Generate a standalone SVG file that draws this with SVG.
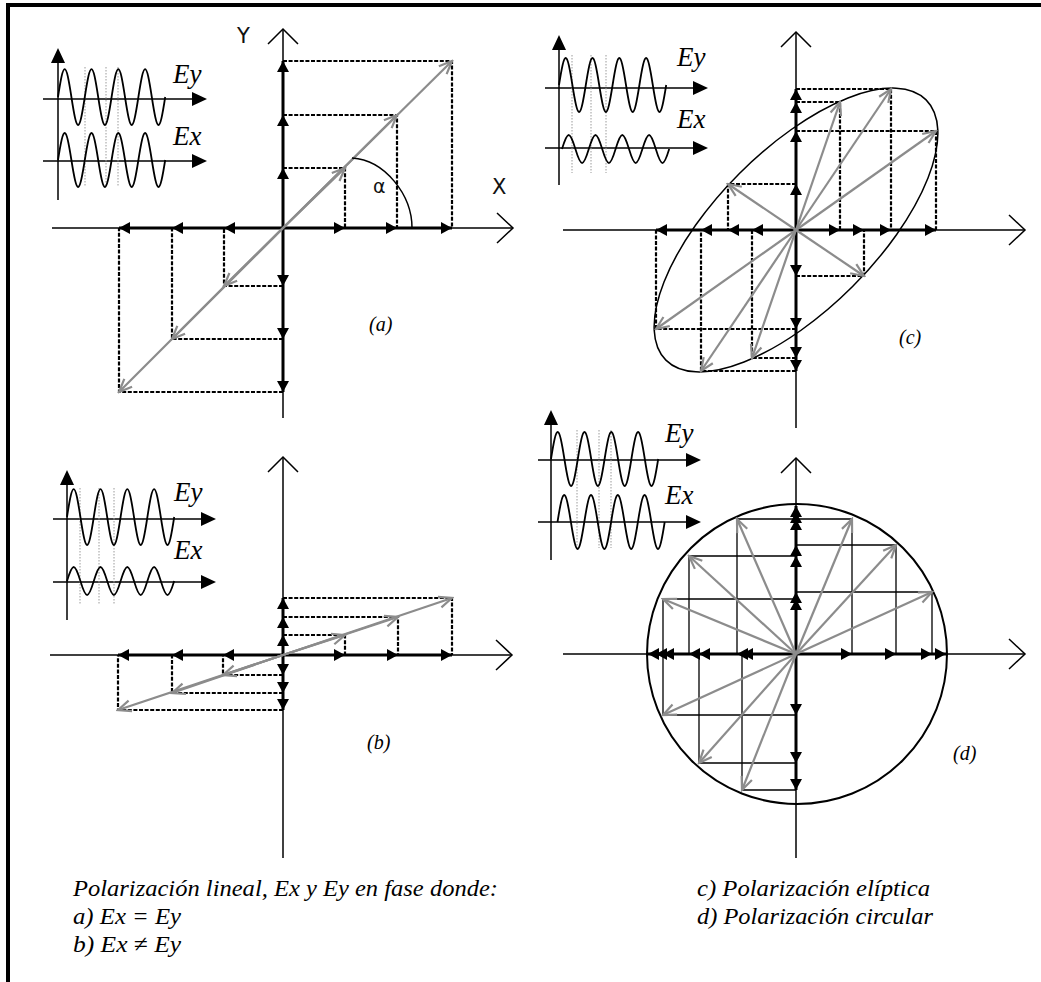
<svg xmlns="http://www.w3.org/2000/svg" width="1041" height="982" viewBox="0 0 1041 982">
<style>
.ax{stroke:#000;stroke-width:1.5;fill:none}
.thk{stroke:#000;stroke-width:3}
.ds{stroke:#000;stroke-width:2.2;stroke-dasharray:4 1.6;fill:none}
.gr{stroke:#8c8c8c;stroke-width:2.2;marker-end:url(#ga)}
.wv{stroke:#000;stroke-width:1.8;fill:none}
.dt{stroke:#9a9a9a;stroke-width:1;stroke-dasharray:1.5 1.5}
.grid{stroke:#000;stroke-width:1.3}
.lb{font-family:"Liberation Serif",serif;font-style:italic;fill:#000}
.sn{font-family:"DejaVu Sans","Liberation Sans",sans-serif;fill:#111}
</style>
<defs>
<marker id="ga" markerUnits="userSpaceOnUse" viewBox="-16 -8 18 16" refX="0" refY="0" markerWidth="18" markerHeight="16" orient="auto">
<path d="M-13,-5.5 L0,0 L-13,5.5" fill="none" stroke="#8c8c8c" stroke-width="2.2"/>
</marker>
<path id="tR" d="M0,0 L-11,-6 L-11,6 Z"/>
<path id="iR" d="M0,0 L-15,-7 L-15,7 Z"/>
</defs>
<rect width="1041" height="982" fill="#fff"/>
<g id="frame">
<line x1="6" y1="5" x2="1041" y2="5" stroke="#000" stroke-width="4"/>
<line x1="8" y1="3" x2="8" y2="982" stroke="#000" stroke-width="4"/>
</g>

<g id="panel-a">
<g id="inset-a">
<line class="ax" x1="58" y1="200" x2="58" y2="60"/>
<use href="#iR" transform="translate(58,48) rotate(-90)"/>
<line class="ax" x1="43" y1="99" x2="195" y2="99"/>
<use href="#iR" transform="translate(207,99)"/>
<line class="ax" x1="43" y1="161" x2="195" y2="161"/>
<use href="#iR" transform="translate(207,161)"/>
<line class="dt" x1="85" y1="67" x2="85" y2="187"/>
<line class="dt" x1="106" y1="67" x2="106" y2="187"/>
<line class="dt" x1="118" y1="67" x2="118" y2="187"/>
<path class="wv" d="M58,97 c5.69,-37.3 7.71,-37.3 13.4,0 s7.71,37.3 13.4,0 s7.71,-37.3 13.4,0 s7.71,37.3 13.4,0 s7.71,-37.3 13.4,0 s7.71,37.3 13.4,0 s7.71,-37.3 13.4,0 s7.71,37.3 13.4,0"/>
<path class="wv" d="M58,160 c5.69,-36 7.71,-36 13.4,0 s7.71,36 13.4,0 s7.71,-36 13.4,0 s7.71,36 13.4,0 s7.71,-36 13.4,0 s7.71,36 13.4,0 s7.71,-36 13.4,0 s7.71,36 13.4,0"/>
<text class="lb" x="173" y="83" font-size="27">Ey</text>
<text class="lb" x="173" y="145" font-size="27">Ex</text>
</g>
<line class="ax" x1="52" y1="228" x2="513" y2="228"/>
<path class="ax" d="M497,213 L513,228 L497,243"/>
<line class="ax" x1="283" y1="418" x2="283" y2="29"/>
<path class="ax" d="M268,44 L283,29 L298,44"/>
<path class="ds" d="M283,61 H452 V228 M283,115 H397 V228 M283,168 H345 V228 M283,286 H224 V228 M283,339 H172 V228 M283,392 H119 V228"/>
<line class="thk" x1="119" y1="228" x2="452" y2="228"/>
<line class="thk" x1="283" y1="61" x2="283" y2="392"/>
<use href="#tR" transform="translate(345,228)"/>
<use href="#tR" transform="translate(397,228)"/>
<use href="#tR" transform="translate(452,228)"/>
<use href="#tR" transform="translate(224,228) rotate(180)"/>
<use href="#tR" transform="translate(172,228) rotate(180)"/>
<use href="#tR" transform="translate(119,228) rotate(180)"/>
<use href="#tR" transform="translate(283,168) rotate(-90)"/>
<use href="#tR" transform="translate(283,115) rotate(-90)"/>
<use href="#tR" transform="translate(283,61) rotate(-90)"/>
<use href="#tR" transform="translate(283,286) rotate(90)"/>
<use href="#tR" transform="translate(283,339) rotate(90)"/>
<use href="#tR" transform="translate(283,392) rotate(90)"/>
<line class="gr" x1="283" y1="228" x2="452" y2="61"/>
<line class="gr" x1="283" y1="228" x2="397" y2="115"/>
<line class="gr" x1="283" y1="228" x2="345" y2="168"/>
<line class="gr" x1="283" y1="228" x2="119" y2="392"/>
<line class="gr" x1="283" y1="228" x2="172" y2="339"/>
<line class="gr" x1="283" y1="228" x2="224" y2="286"/>
<path d="M352,158 C385,160 412,195 412,228" fill="none" stroke="#000" stroke-width="1.5"/>
<text class="sn" x="373" y="193" font-size="19">α</text>
<text class="sn" x="237" y="43" font-size="21">Y</text>
<text class="sn" x="492" y="194" font-size="21">X</text>
<text class="lb" x="369" y="331" font-size="20">(a)</text>
</g>

<g id="panel-b">
<g id="inset-b">
<line class="ax" x1="67" y1="620" x2="67" y2="482"/>
<use href="#iR" transform="translate(67,470) rotate(-90)"/>
<line class="ax" x1="53" y1="519" x2="204" y2="519"/>
<use href="#iR" transform="translate(216,519)"/>
<line class="ax" x1="53" y1="582" x2="204" y2="582"/>
<use href="#iR" transform="translate(216,582)"/>
<line class="dt" x1="80" y1="488" x2="80" y2="605"/>
<line class="dt" x1="99" y1="488" x2="99" y2="605"/>
<line class="dt" x1="114" y1="488" x2="114" y2="605"/>
<path class="wv" d="M67,517 c5.69,-37.3 7.71,-37.3 13.4,0 s7.71,37.3 13.4,0 s7.71,-37.3 13.4,0 s7.71,37.3 13.4,0 s7.71,-37.3 13.4,0 s7.71,37.3 13.4,0 s7.71,-37.3 13.4,0 s7.71,37.3 13.4,0"/>
<path class="wv" d="M67,581 c5.69,-18.7 7.71,-18.7 13.4,0 s7.71,18.7 13.4,0 s7.71,-18.7 13.4,0 s7.71,18.7 13.4,0 s7.71,-18.7 13.4,0 s7.71,18.7 13.4,0 s7.71,-18.7 13.4,0 s7.71,18.7 13.4,0"/>
<text class="lb" x="174" y="501" font-size="27">Ey</text>
<text class="lb" x="174" y="559" font-size="27">Ex</text>
</g>
<line class="ax" x1="50" y1="655" x2="512" y2="655"/>
<path class="ax" d="M496,640 L512,655 L496,670"/>
<line class="ax" x1="283" y1="858" x2="283" y2="457"/>
<path class="ax" d="M268,472 L283,457 L298,472"/>
<path class="ds" d="M283,598 H452 V655 M283,617 H398 V655 M283,635 H345 V655 M283,675 H223 V655 M283,693 H172 V655 M283,710 H118 V655"/>
<line class="thk" x1="118" y1="655" x2="452" y2="655"/>
<line class="thk" x1="283" y1="598" x2="283" y2="710"/>
<use href="#tR" transform="translate(345,655)"/>
<use href="#tR" transform="translate(398,655)"/>
<use href="#tR" transform="translate(452,655)"/>
<use href="#tR" transform="translate(223,655) rotate(180)"/>
<use href="#tR" transform="translate(172,655) rotate(180)"/>
<use href="#tR" transform="translate(118,655) rotate(180)"/>
<use href="#tR" transform="translate(283,635) rotate(-90)"/>
<use href="#tR" transform="translate(283,617) rotate(-90)"/>
<use href="#tR" transform="translate(283,598) rotate(-90)"/>
<use href="#tR" transform="translate(283,675) rotate(90)"/>
<use href="#tR" transform="translate(283,693) rotate(90)"/>
<use href="#tR" transform="translate(283,710) rotate(90)"/>
<line class="gr" x1="283" y1="655" x2="452" y2="598"/>
<line class="gr" x1="283" y1="655" x2="398" y2="617"/>
<line class="gr" x1="283" y1="655" x2="345" y2="635"/>
<line class="gr" x1="283" y1="655" x2="118" y2="710"/>
<line class="gr" x1="283" y1="655" x2="172" y2="693"/>
<line class="gr" x1="283" y1="655" x2="223" y2="675"/>
<text class="lb" x="367" y="749" font-size="20">(b)</text>
</g>

<g id="panel-c">
<g id="inset-c">
<line class="ax" x1="559" y1="185" x2="559" y2="47"/>
<use href="#iR" transform="translate(559,35) rotate(-90)"/>
<line class="ax" x1="545" y1="88" x2="696" y2="88"/>
<use href="#iR" transform="translate(708,88)"/>
<line class="ax" x1="545" y1="148" x2="696" y2="148"/>
<use href="#iR" transform="translate(708,148)"/>
<line class="dt" x1="572" y1="55" x2="572" y2="173"/>
<line class="dt" x1="591" y1="55" x2="591" y2="173"/>
<line class="dt" x1="606" y1="55" x2="606" y2="173"/>
<path class="wv" d="M559,85 c5.69,-36 7.71,-36 13.4,0 s7.71,36 13.4,0 s7.71,-36 13.4,0 s7.71,36 13.4,0 s7.71,-36 13.4,0 s7.71,36 13.4,0 s7.71,-36 13.4,0 s7.71,36 13.4,0"/>
<path class="wv" d="M562,149 c5.69,-18.7 7.71,-18.7 13.4,0 s7.71,18.7 13.4,0 s7.71,-18.7 13.4,0 s7.71,18.7 13.4,0 s7.71,-18.7 13.4,0 s7.71,18.7 13.4,0 s7.71,-18.7 13.4,0 s7.71,18.7 13.4,0"/>
<text class="lb" x="677" y="66" font-size="27">Ey</text>
<text class="lb" x="677" y="128" font-size="27">Ex</text>
</g>
<line class="ax" x1="563" y1="230" x2="1025" y2="230"/>
<path class="ax" d="M1009,215 L1025,230 L1009,245"/>
<line class="ax" x1="796" y1="428" x2="796" y2="32"/>
<path class="ax" d="M781,47 L796,32 L811,47"/>
<ellipse cx="796" cy="230" rx="184" ry="80" transform="rotate(-45 796 230)" fill="none" stroke="#000" stroke-width="1.5"/>
<path class="ds" d="M796,89 H891 V230 M796,102 H840 V230 M796,131 H936 V230 M796,184 H728 V230 M796,276 H864 V230 M796,329 H656 V230 M796,371 H701 V230 M796,358 H752 V230"/>
<line class="thk" x1="656" y1="230" x2="936" y2="230"/>
<line class="thk" x1="796" y1="89" x2="796" y2="371"/>
<use href="#tR" transform="translate(840,230)"/>
<use href="#tR" transform="translate(864,230)"/>
<use href="#tR" transform="translate(891,230)"/>
<use href="#tR" transform="translate(936,230)"/>
<use href="#tR" transform="translate(752,230) rotate(180)"/>
<use href="#tR" transform="translate(728,230) rotate(180)"/>
<use href="#tR" transform="translate(701,230) rotate(180)"/>
<use href="#tR" transform="translate(656,230) rotate(180)"/>
<use href="#tR" transform="translate(796,89) rotate(-90)"/>
<use href="#tR" transform="translate(796,102) rotate(-90)"/>
<use href="#tR" transform="translate(796,131) rotate(-90)"/>
<use href="#tR" transform="translate(796,184) rotate(-90)"/>
<use href="#tR" transform="translate(796,276) rotate(90)"/>
<use href="#tR" transform="translate(796,329) rotate(90)"/>
<use href="#tR" transform="translate(796,358) rotate(90)"/>
<use href="#tR" transform="translate(796,371) rotate(90)"/>
<line class="gr" x1="796" y1="230" x2="891" y2="89"/>
<line class="gr" x1="796" y1="230" x2="840" y2="102"/>
<line class="gr" x1="796" y1="230" x2="936" y2="131"/>
<line class="gr" x1="796" y1="230" x2="728" y2="184"/>
<line class="gr" x1="796" y1="230" x2="864" y2="276"/>
<line class="gr" x1="796" y1="230" x2="656" y2="329"/>
<line class="gr" x1="796" y1="230" x2="701" y2="371"/>
<line class="gr" x1="796" y1="230" x2="752" y2="358"/>
<text class="lb" x="899" y="344" font-size="20">(c)</text>
</g>

<g id="panel-d">
<g id="inset-d">
<line class="ax" x1="551" y1="560" x2="551" y2="422"/>
<use href="#iR" transform="translate(551,410) rotate(-90)"/>
<line class="ax" x1="538" y1="460" x2="689" y2="460"/>
<use href="#iR" transform="translate(701,460)"/>
<line class="ax" x1="538" y1="522" x2="689" y2="522"/>
<use href="#iR" transform="translate(701,522)"/>
<line class="dt" x1="577" y1="430" x2="577" y2="548"/>
<line class="dt" x1="599" y1="430" x2="599" y2="548"/>
<line class="dt" x1="611" y1="430" x2="611" y2="548"/>
<path class="wv" d="M551,459 c5.69,-36 7.71,-36 13.4,0 s7.71,36 13.4,0 s7.71,-36 13.4,0 s7.71,36 13.4,0 s7.71,-36 13.4,0 s7.71,36 13.4,0 s7.71,-36 13.4,0 s7.71,36 13.4,0"/>
<path class="wv" d="M557.5,522 c5.69,-36 7.71,-36 13.4,0 s7.71,36 13.4,0 s7.71,-36 13.4,0 s7.71,36 13.4,0 s7.71,-36 13.4,0 s7.71,36 13.4,0 s7.71,-36 13.4,0 s7.71,36 13.4,0"/>
<text class="lb" x="665" y="442" font-size="27">Ey</text>
<text class="lb" x="665" y="504" font-size="27">Ex</text>
</g>
<line class="ax" x1="563" y1="654" x2="1025" y2="654"/>
<path class="ax" d="M1009,639 L1025,654 L1009,669"/>
<line class="ax" x1="796" y1="858" x2="796" y2="458"/>
<path class="ax" d="M781,473 L796,458 L811,473"/>
<circle cx="797" cy="654" r="150" fill="none" stroke="#000" stroke-width="2"/>
<path class="grid" fill="none" d="M737,519 H852 M796,545 H896 M689,556 H796 M796,592 H932 M663,599 H796 M663,715 H796 M699,763 H796 M742,790 H796 M852,519 V654 M896,545 V654 M932,592 V654 M737,519 V654 M689,556 V654 M663,599 V715 M699,654 V763 M742,654 V790"/>
<line class="thk" x1="648" y1="654" x2="946" y2="654"/>
<line class="thk" x1="796" y1="506" x2="796" y2="790"/>
<use href="#tR" transform="translate(852,654)"/>
<use href="#tR" transform="translate(896,654)"/>
<use href="#tR" transform="translate(932,654)"/>
<use href="#tR" transform="translate(946,654)"/>
<use href="#tR" transform="translate(648,654) rotate(180)"/>
<use href="#tR" transform="translate(656,654) rotate(180)"/>
<use href="#tR" transform="translate(663,654) rotate(180)"/>
<use href="#tR" transform="translate(689,654) rotate(180)"/>
<use href="#tR" transform="translate(699,654) rotate(180)"/>
<use href="#tR" transform="translate(737,654) rotate(180)"/>
<use href="#tR" transform="translate(742,654) rotate(180)"/>
<use href="#tR" transform="translate(796,506) rotate(-90)"/>
<use href="#tR" transform="translate(796,512) rotate(-90)"/>
<use href="#tR" transform="translate(796,519) rotate(-90)"/>
<use href="#tR" transform="translate(796,545) rotate(-90)"/>
<use href="#tR" transform="translate(796,556) rotate(-90)"/>
<use href="#tR" transform="translate(796,592) rotate(-90)"/>
<use href="#tR" transform="translate(796,599) rotate(-90)"/>
<use href="#tR" transform="translate(796,715) rotate(90)"/>
<use href="#tR" transform="translate(796,763) rotate(90)"/>
<use href="#tR" transform="translate(796,790) rotate(90)"/>
<line class="gr" x1="796" y1="654" x2="852" y2="519"/>
<line class="gr" x1="796" y1="654" x2="896" y2="545"/>
<line class="gr" x1="796" y1="654" x2="932" y2="592"/>
<line class="gr" x1="796" y1="654" x2="737" y2="519"/>
<line class="gr" x1="796" y1="654" x2="689" y2="556"/>
<line class="gr" x1="796" y1="654" x2="663" y2="599"/>
<line class="gr" x1="796" y1="654" x2="663" y2="715"/>
<line class="gr" x1="796" y1="654" x2="699" y2="763"/>
<line class="gr" x1="796" y1="654" x2="742" y2="790"/>
<text class="lb" x="953" y="760" font-size="20">(d)</text>
</g>

<g id="captions">
<text class="lb" x="73" y="896" font-size="24" textLength="425" lengthAdjust="spacingAndGlyphs">Polarización lineal, Ex y Ey en fase donde:</text>
<text class="lb" x="73" y="924" font-size="24" textLength="108" lengthAdjust="spacingAndGlyphs">a) Ex = Ey</text>
<text class="lb" x="73" y="952" font-size="24" textLength="108" lengthAdjust="spacingAndGlyphs">b) Ex ≠ Ey</text>
<text class="lb" x="697" y="896" font-size="24" textLength="233" lengthAdjust="spacingAndGlyphs">c) Polarización elíptica</text>
<text class="lb" x="697" y="924" font-size="24" textLength="236" lengthAdjust="spacingAndGlyphs">d) Polarización circular</text>
</g>
</svg>
